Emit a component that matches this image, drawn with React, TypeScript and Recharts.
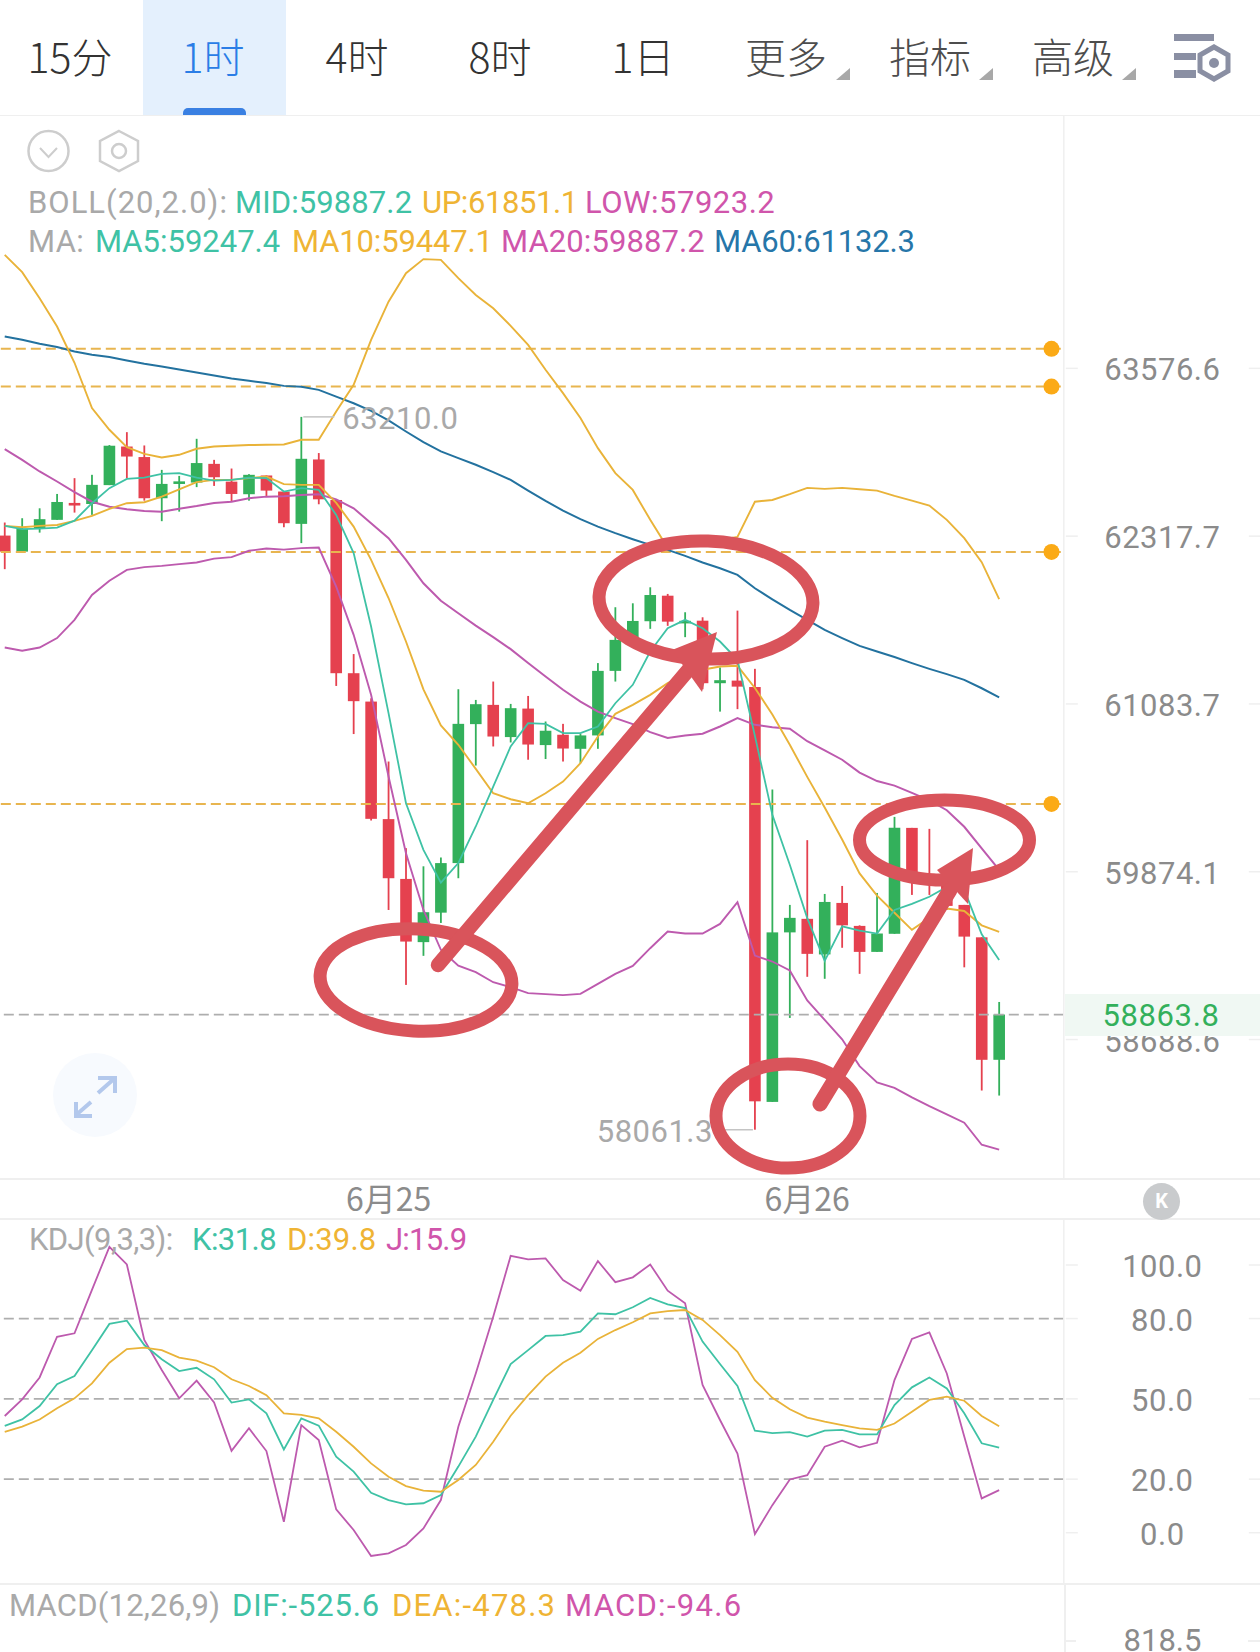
import * as React from "react";
import {
  Bar,
  ComposedChart,
  Line,
  ReferenceDot,
  ReferenceLine,
  XAxis,
  YAxis,
} from "recharts";

// hourly candles, log price axis like the app draws it
const opens = [
  62322, 62203, 62372, 62439, 62565, 62557, 62698, 62987, 62908, 62600,
  62720, 62717, 62857, 62724, 62630, 62770, 62650, 62409, 62890, 62587,
  61308, 61101, 60251, 59823, 59374, 59583, 59936, 60937, 61077, 60843,
  61050, 60785, 60860, 60758, 60855, 61325, 61552, 61689, 61877, 61680,
  61693, 61235, 61254, 61207, 58254, 59443, 59539, 59287, 59652, 59489,
  59305, 59433, 60188, 59859, 59788, 59638, 59408, 58547,
];
const highs = [
  62419, 62451, 62525, 62632, 62750, 62775, 62998, 63095, 62995, 62812,
  62767, 63045, 62887, 62822, 62780, 62770, 62650, 63210, 62938, 62587,
  61448, 61125, 60666, 60043, 59913, 59976, 61191, 61113, 61247, 61084,
  61142, 60956, 60939, 60865, 61382, 61792, 61821, 61939, 61890, 61755,
  61718, 61350, 61767, 61340, 60464, 59638, 60100, 59716, 59773, 59493,
  59723, 60267, 60188, 60181, 59816, 59638, 59408, 58952,
];
const lows = [
  62073, 62203, 62344, 62439, 62493, 62476, 62698, 62750, 62582, 62429,
  62500, 62683, 62692, 62577, 62582, 62617, 62384, 62266, 62555, 61215,
  60865, 60241, 59602, 59072, 59277, 59510, 59828, 60637, 60775, 60804,
  60679, 60684, 60666, 60654, 60758, 61247, 61552, 61633, 61655, 61572,
  61191, 61028, 61046, 58061.3, 58254, 58840, 59129, 59115, 59334, 59150,
  59305, 59433, 59709, 59709, 59602, 59196, 58333, 58298,
];
const closes = [
  62203, 62372, 62444, 62572, 62558, 62700, 62993, 62912, 62600, 62707,
  62726, 62863, 62757, 62632, 62775, 62657, 62414, 62895, 62592, 61308,
  61104, 60253, 59828, 59378, 59586, 59936, 60939, 61082, 60847, 61053,
  60789, 60889, 60760, 60855, 61325, 61552, 61691, 61882, 61686, 61692,
  61235, 61257, 61210, 58258, 59443, 59546, 59291, 59659, 59493, 59305,
  59435, 60189, 59838, 59788, 59631, 59413, 58547, 58863.8,
];

const ma5 = [
  62394, 62370, 62374, 62381, 62433, 62563, 62675, 62744, 62754, 62782,
  62787, 62754, 62732, 62737, 62754, 62750, 62650, 62675, 62662, 62476,
  62192, 61650, 61017, 60365, 60031, 59797, 59936, 60198, 60484, 60775,
  60944, 60939, 60872, 60872, 60920, 61089, 61223, 61467, 61638, 61699,
  61638, 61540, 61406, 60852, 60282, 59924, 59544, 59242, 59486, 59456,
  59435, 59602, 59645, 59696, 59766, 59747, 59430, 59247.4,
];
const ma10 = [
  62394, 62384, 62394, 62401, 62431, 62468, 62520, 62563, 62570, 62612,
  62667, 62720, 62737, 62737, 62750, 62762, 62705, 62700, 62700, 62565,
  62389, 62142, 61860, 61540, 61190, 60927, 60787, 60613, 60437, 60394,
  60365, 60437, 60521, 60654, 60847, 61012, 61077, 61150, 61235, 61296,
  61333, 61357, 61362, 61200, 61007, 60787, 60555, 60335, 60105, 59862,
  59704, 59582, 59461, 59546, 59612, 59595, 59493, 59447.1,
];
const ma20 = [
  62968, 62887, 62800, 62725, 62645, 62574, 62537, 62518, 62505, 62500,
  62522, 62542, 62565, 62574, 62600, 62612, 62615, 62625, 62630, 62592,
  62525, 62414, 62303, 62142, 61969, 61840, 61748, 61657, 61572, 61484,
  61382, 61284, 61187, 61101, 61028, 60981, 60937, 60879, 60836, 60855,
  60867, 60920, 60981, 60932, 60915, 60903, 60813, 60746, 60679, 60586,
  60525, 60492, 60440, 60386, 60315, 60196, 60041, 59887.2,
];
const ma60 = [
  63818, 63793, 63763, 63738, 63705, 63680, 63662, 63636, 63611, 63591,
  63568, 63545, 63522, 63499, 63482, 63465, 63444, 63437, 63414, 63363,
  63313, 63255, 63183, 63100, 63020, 62950, 62900, 62850, 62795, 62737,
  62657, 62580, 62508, 62444, 62389, 62340, 62295, 62253, 62216, 62171,
  62122, 62080, 62031, 61932, 61850, 61772, 61699, 61625, 61565, 61508,
  61467, 61426, 61382, 61340, 61301, 61259, 61198, 61132.3,
];
const bollUp = [
  64443, 64310, 64110, 63894, 63619, 63276, 63113, 62983, 62932, 62905,
  62925, 62970, 62987, 62993, 62998, 63000, 63002, 63038, 63038, 63250,
  63452, 63793, 64084, 64302, 64410, 64404, 64264, 64135, 64034, 63900,
  63755, 63566, 63389, 63201, 62975, 62788, 62662, 62439, 62231, 62253,
  62268, 62290, 62312, 62574, 62587, 62630, 62677, 62670, 62677, 62667,
  62657, 62617, 62582, 62545, 62439, 62303, 62125, 61851.1,
];
const bollLow = [
  61496, 61472, 61496, 61565, 61699, 61882, 61988, 62068, 62088, 62097,
  62110, 62122, 62151, 62162, 62209, 62226, 62218, 62229, 62233, 61944,
  61589, 61150, 60558, 60007, 59602, 59320, 59208, 59162, 59091, 59056,
  59014, 59007, 59000, 59009, 59079, 59150, 59206, 59331, 59449, 59435,
  59435, 59503, 59657, 59279, 59237, 59174, 58963, 58826, 58690, 58503,
  58390, 58352, 58285, 58224, 58167, 58110, 57957, 57923.2,
];

const kLine = [
  39.9, 42.3, 47.3, 55.5, 58.5, 68.2, 78.0, 79.2, 70.1, 64.8,
  60.4, 61.6, 57.3, 48.6, 49.8, 44.6, 31.1, 42.7, 40.0, 28.4,
  22.8, 14.9, 12.2, 10.6, 11.0, 14.1, 24.7, 35.9, 49.6, 63.0,
  68.2, 73.5, 73.8, 75.1, 81.9, 81.6, 84.2, 87.7, 85.3, 83.9,
  71.4, 63.0, 54.8, 38.1, 37.2, 37.6, 35.9, 38.1, 38.4, 36.7,
  36.7, 47.7, 54.3, 58.0, 53.9, 44.6, 33.4, 31.8,
];
const dLine = [
  37.7, 39.6, 42.3, 46.5, 50.2, 55.8, 63.5, 68.6, 69.1, 68.2,
  65.4, 64.3, 61.8, 57.3, 54.8, 51.4, 44.6, 44.0, 42.7, 37.7,
  32.1, 25.9, 20.9, 17.4, 15.7, 15.3, 19.7, 25.3, 34.0, 43.7,
  51.4, 58.3, 63.5, 67.2, 72.4, 75.7, 78.6, 81.9, 82.8, 83.2,
  79.5, 73.8, 67.6, 57.0, 50.4, 46.1, 43.0, 41.5, 40.2, 39.0,
  38.4, 40.8, 45.2, 49.6, 50.8, 49.3, 43.6, 39.8,
];
const jLine = [
  43.6, 49.8, 58.0, 73.2, 74.5, 90.7, 106.8, 100.2, 72.0, 60.8,
  50.2, 56.8, 48.7, 30.6, 39.0, 30.5, 4.1, 40.2, 34.6, 8.7,
  1.0, -8.7, -7.7, -4.6, 1.6, 12.2, 39.6, 59.5, 80.7, 103.4,
  102.1, 102.5, 94.4, 90.4, 101.5, 93.6, 95.4, 100.2, 90.4, 85.7,
  55.2, 42.1, 29.6, -0.5, 10.3, 19.9, 21.5, 32.1, 34.4, 31.9,
  33.6, 57.0, 72.4, 74.8, 59.5, 35.9, 12.8, 15.9,
];

const priceTicks = [63576.6, 62317.7, 61083.7, 59874.1, 58688.6];
const kdjTicks = [100, 80, 50, 20, 0];
const kdjGuides = [80, 50, 20];
const alertPrices = [63725, 63439, 62201, 60360];
const lastPrice = 58863.8;
const dateTicks = [22, 46];
const dateLabels: Record<number, string> = { 22: "6月25", 46: "6月26" };
const tabs = ["15分", "1时", "4时", "8时", "1日", "更多", "指标", "高级"];
// empty slots the app keeps right of the last candle, alert dots sit in the last one
const emptySlots = [58, 59, 60];
const alertSlot = 60;

const rows: any[] = [
  ...opens.map((open, i) => ({
    i,
    open,
    high: highs[i],
    low: lows[i],
    close: closes[i],
    range: [lows[i], highs[i]],
    ma5: ma5[i],
    ma10: ma10[i],
    ma20: ma20[i],
    ma60: ma60[i],
    up: bollUp[i],
    lowBand: bollLow[i],
    k: kLine[i],
    d: dLine[i],
    j: jLine[i],
  })),
  ...emptySlots.map((i) => ({ i })),
];

const GREEN = "#33b05b";
const RED = "#e5414f";
const TEAL = "#3fc2a5";
const ORANGE = "#e9b339";
const PURPLE = "#bd5aae";
const BLUE = "#23729f";
const MARK = "#d9545b";
const LABEL = "#a9a9a9";
const AXIS_TEXT = "#8b8b8b";
const RULE = "#efefef";
const LEGEND_ORANGE = "#efb434";
const LEGEND_PINK = "#d055ab";
const NUM_FONT = "Roboto, 'Noto Sans', sans-serif";
const CJK_FONT = "'Noto Sans CJK SC', sans-serif";

function Candle(props: any) {
  const { x, y, width, height, payload } = props;
  if (!payload || payload.high == null) return null;
  const cx = x + width / 2;
  const { high, low, open, close } = payload;
  const span = Math.log(high / low);
  const at = (p: number) => y + (height * Math.log(high / p)) / span;
  const color = close >= open ? GREEN : RED;
  const top = at(Math.max(open, close));
  const bottom = at(Math.min(open, close));
  return (
    <g>
      <rect x={cx - 0.9} y={y} width={1.8} height={height} fill={color} />
      <rect
        x={cx - 5.8}
        y={top}
        width={11.6}
        height={Math.max(bottom - top, 2.6)}
        fill={color}
      />
    </g>
  );
}

function AxisTick(props: any) {
  const { x, y, payload } = props;
  return (
    <g>
      <line x1={x} x2={x + 12} y1={y} y2={y} stroke={RULE} strokeWidth={1.5} />
      <line x1={x + 183} x2={x + 196} y1={y} y2={y} stroke={RULE} strokeWidth={1.5} />
      <text
        x={x + 96.5}
        y={y + 1.5}
        textAnchor="middle"
        dominantBaseline="central"
        fontFamily={NUM_FONT}
        fontSize={31}
        letterSpacing={0.5}
        fill={AXIS_TEXT}
      >
        {Number(payload.value).toFixed(1)}
      </text>
    </g>
  );
}

function DateTick(props: any) {
  const { x, payload } = props;
  return (
    <text
      x={x}
      y={1197 - 116}
      textAnchor="middle"
      dominantBaseline="central"
      fontFamily={CJK_FONT}
      fontSize={32}
      fill={AXIS_TEXT}
    >
      {dateLabels[payload.value]}
    </text>
  );
}

// leader + price tag for the window high / low
function ExtremeTag(props: any) {
  const { cx, cy, side } = props;
  const right = side === "right";
  return (
    <g>
      <line
        x1={right ? cx + 2 : cx - 2}
        x2={right ? cx + 33 : cx - 38}
        y1={cy}
        y2={cy}
        stroke="#c4c4c4"
        strokeWidth={1.5}
      />
      <text
        x={right ? cx + 41 : cx - 42}
        y={cy + 2}
        textAnchor={right ? "start" : "end"}
        dominantBaseline="central"
        fontFamily={NUM_FONT}
        fontSize={31}
        letterSpacing={0.5}
        fill={LABEL}
      >
        {props.label}
      </text>
    </g>
  );
}

function Legend({
  top,
  items,
}: {
  top: number;
  items: Array<{ left: number; text: string; color: string; ls: number }>;
}) {
  return (
    <>
      {items.map((it) => (
        <div
          key={it.text}
          style={{
            position: "absolute",
            left: it.left,
            top: top - 20,
            height: 40,
            lineHeight: "40px",
            fontFamily: NUM_FONT,
            fontSize: 31,
            letterSpacing: it.ls,
            color: it.color,
            whiteSpace: "nowrap",
          }}
        >
          {it.text}
        </div>
      ))}
    </>
  );
}

function TabBar() {
  const centers = [70, 213, 357, 500, 643, 786, 930, 1073];
  return (
    <>
      <div
        style={{
          position: "absolute",
          left: 143,
          top: 0,
          width: 143,
          height: 115,
          background: "#e4f0fd",
        }}
      />
      <div
        style={{
          position: "absolute",
          left: 183,
          top: 108,
          width: 63,
          height: 7,
          background: "#3a80e2",
          borderRadius: "5px 5px 0 0",
        }}
      />
      {tabs.map((t, i) => (
        <div
          key={t}
          style={{
            position: "absolute",
            left: centers[i] - 70,
            width: 140,
            top: 29,
            height: 52,
            lineHeight: "52px",
            textAlign: "center",
            fontFamily: CJK_FONT,
            fontWeight: 300,
            fontSize: 41,
            color: i === 1 ? "#2a7de6" : i > 4 ? "#4d4d4d" : "#333",
          }}
        >
          {t}
        </div>
      ))}
      <svg
        width={1260}
        height={116}
        style={{ position: "absolute", left: 0, top: 0 }}
      >
        {[836, 979, 1122].map((x) => (
          <polygon
            key={x}
            points={`${x},80 ${x + 14},80 ${x + 14},68`}
            fill="#a8a8a8"
          />
        ))}
        <g fill="#8a8fa3">
          <rect x={1174} y={34} width={40} height={7} />
          <rect x={1174} y={53} width={22} height={7} />
          <rect x={1174} y={70} width={22} height={8} />
        </g>
        <polygon
          points="1214,47 1228,55 1228,71 1214,79 1200,71 1200,55"
          fill="none"
          stroke="#8a8fa3"
          strokeWidth={5}
        />
        <circle cx={1214} cy={63} r={5} fill="#8a8fa3" />
        <line x1={0} x2={1260} y1={115.5} y2={115.5} stroke={RULE} strokeWidth={1} />
      </svg>
    </>
  );
}

// hand drawn markup sitting on top of the screenshot
function Markup() {
  return (
    <svg
      width={1260}
      height={1652}
      style={{ position: "absolute", left: 0, top: 0, pointerEvents: "none" }}
    >
      <g fill="none" stroke={MARK} strokeWidth={13}>
        <ellipse cx={416} cy={980} rx={96} ry={51} transform="rotate(3 416 980)" />
        <ellipse cx={706} cy={600} rx={107} ry={59} transform="rotate(2 706 600)" />
        <ellipse cx={944.5} cy={840} rx={85} ry={40} />
        <ellipse cx={788} cy={1116} rx={72} ry={52} />
      </g>
      <g stroke={MARK} strokeLinecap="round">
        <line x1={438} y1={965} x2={690} y2={668} strokeWidth={14.5} />
        <line x1={820} y1={1104} x2={950} y2={890} strokeWidth={15} />
      </g>
      <g fill={MARK}>
        <polygon points="717,632 702,692 672,650" />
        <polygon points="973,848 968,904 937,870" />
      </g>
    </svg>
  );
}

function ExpandButton() {
  return (
    <svg
      width={100}
      height={100}
      style={{ position: "absolute", left: 48, top: 1045 }}
    >
      <circle cx={47} cy={50} r={42} fill="#f7fafe" />
      <g fill="none" stroke="#b3c8ec" strokeWidth={4}>
        <path d="M50 48 L67 33 M50 33 H67 V48" />
        <path d="M28 70 L43 57 M28 57 V71 H44" />
      </g>
    </svg>
  );
}

export default function App() {
  return (
    <div
      style={{
        position: "absolute",
        left: 0,
        top: 0,
        width: 1260,
        height: 1652,
        overflow: "hidden",
        background: "#fff",
      }}
    >
      <TabBar />

      <svg
        width={170}
        height={60}
        style={{ position: "absolute", left: 20, top: 122 }}
      >
        <circle cx={28.5} cy={29} r={20} fill="none" stroke="#cdcdcd" strokeWidth={2.5} />
        <path d="M20 26 L28.5 35 L37 26" fill="none" stroke="#cdcdcd" strokeWidth={2} />
        <polygon
          points="99,9 118,19 118,39 99,49 80,39 80,19"
          fill="none"
          stroke="#cdcdcd"
          strokeWidth={2.5}
        />
        <circle cx={99} cy={29} r={7} fill="none" stroke="#cdcdcd" strokeWidth={2.5} />
      </svg>

      <div style={{ position: "absolute", left: 0, top: 1178, width: 1260, height: 1.5, background: RULE }} />
      <div style={{ position: "absolute", left: 0, top: 1218, width: 1260, height: 1.5, background: RULE }} />

      <div style={{ position: "absolute", left: -3.82, top: 116 }}>
        <ComposedChart
          width={1263.82}
          height={1112}
          data={rows}
          margin={{ top: 0, right: 0, bottom: 0, left: 0 }}
        >
          <XAxis
            dataKey="i"
            type="category"
            scale="band"
            height={50}
            padding={{ left: 0, right: 3.6 }}
            ticks={dateTicks}
            interval={0}
            tick={<DateTick />}
            tickLine={false}
            axisLine={false}
          />
          <YAxis
            orientation="right"
            width={196}
            scale="log"
            type="number"
            domain={[57728, 65518]}
            allowDataOverflow
            ticks={priceTicks}
            interval={0}
            tick={<AxisTick />}
            tickLine={false}
            tickSize={0}
            axisLine={{ stroke: RULE, strokeWidth: 1.5 }}
          />
          {alertPrices.map((p) => (
            <ReferenceLine
              key={p}
              y={p}
              stroke="#e8b54f"
              strokeWidth={2}
              strokeDasharray="10 5"
              strokeDashoffset={-3}
            />
          ))}
          <ReferenceLine
            y={lastPrice}
            stroke="#aeaeae"
            strokeWidth={1.8}
            strokeDasharray="10 5"
          />
          <Bar dataKey="range" shape={<Candle />} isAnimationActive={false} />
          <Line dataKey="ma60" stroke={BLUE} strokeWidth={2} dot={false} type="linear" isAnimationActive={false} />
          <Line dataKey="up" stroke={ORANGE} strokeWidth={1.9} dot={false} type="linear" isAnimationActive={false} />
          <Line dataKey="lowBand" stroke={PURPLE} strokeWidth={1.9} dot={false} type="linear" isAnimationActive={false} />
          <Line dataKey="ma20" stroke={PURPLE} strokeWidth={2} dot={false} type="linear" isAnimationActive={false} />
          <Line dataKey="ma10" stroke={ORANGE} strokeWidth={1.9} dot={false} type="linear" isAnimationActive={false} />
          <Line dataKey="ma5" stroke={TEAL} strokeWidth={1.8} dot={false} type="linear" isAnimationActive={false} />
          {alertPrices.map((p) => (
            <ReferenceDot
              key={p}
              x={alertSlot}
              y={p}
              r={8}
              fill="#fbaa16"
              stroke="none"
            />
          ))}
          <ReferenceDot
            x={17}
            y={highs[17]}
            r={0}
            shape={<ExtremeTag side="right" label="63210.0" />}
          />
          <ReferenceDot
            x={43}
            y={lows[43]}
            r={0}
            shape={<ExtremeTag side="left" label="58061.3" />}
          />
        </ComposedChart>
      </div>

      <Legend
        top={203}
        items={[
          { left: 28, text: "BOLL(20,2.0):", color: LABEL, ls: 1 },
          { left: 235, text: "MID:59887.2", color: TEAL, ls: 0.1 },
          { left: 422, text: "UP:61851.1", color: LEGEND_ORANGE, ls: -0.4 },
          { left: 585, text: "LOW:57923.2", color: LEGEND_PINK, ls: 0.5 },
        ]}
      />
      <Legend
        top={242}
        items={[
          { left: 28, text: "MA:", color: LABEL, ls: 0.4 },
          { left: 95, text: "MA5:59247.4", color: TEAL, ls: 0 },
          { left: 292, text: "MA10:59447.1", color: LEGEND_ORANGE, ls: -0.15 },
          { left: 501, text: "MA20:59887.2", color: LEGEND_PINK, ls: 0.1 },
          { left: 714, text: "MA60:61132.3", color: "#2676a9", ls: -0.15 },
        ]}
      />

      <ExpandButton />

      <div
        style={{
          position: "absolute",
          left: 1065,
          top: 994,
          width: 195,
          height: 42,
          background: "#f0f8f3",
        }}
      />
      <div
        style={{
          position: "absolute",
          left: 1063,
          top: 996,
          width: 196,
          height: 40,
          lineHeight: "40px",
          textAlign: "center",
          fontFamily: NUM_FONT,
          fontSize: 31,
          letterSpacing: 0.6,
          color: GREEN,
        }}
      >
        {lastPrice.toFixed(1)}
      </div>

      <div
        style={{
          position: "absolute",
          left: 1143,
          top: 1183,
          width: 37,
          height: 37,
          borderRadius: "50%",
          background: "#c9cbcd",
          color: "#fff",
          textAlign: "center",
          lineHeight: "37px",
          fontFamily: NUM_FONT,
          fontWeight: 700,
          fontSize: 20,
        }}
      >
        K
      </div>

      <div style={{ position: "absolute", left: -3.82, top: 1218 }}>
        <ComposedChart
          width={1263.82}
          height={365}
          data={rows}
          margin={{ top: 0, right: 0, bottom: 0, left: 0 }}
        >
          <XAxis
            dataKey="i"
            type="category"
            scale="band"
            hide
            padding={{ left: 0, right: 3.6 }}
          />
          <YAxis
            orientation="right"
            width={196}
            type="number"
            domain={[-18.79, 117.56]}
            allowDataOverflow
            ticks={kdjTicks}
            interval={0}
            tick={<AxisTick />}
            tickLine={false}
            tickSize={0}
            axisLine={{ stroke: RULE, strokeWidth: 1.5 }}
          />
          {kdjGuides.map((v) => (
            <ReferenceLine
              key={v}
              y={v}
              stroke="#aeaeae"
              strokeWidth={1.8}
              strokeDasharray="10 5"
            />
          ))}
          <Line dataKey="j" stroke={PURPLE} strokeWidth={1.8} dot={false} type="linear" isAnimationActive={false} />
          <Line dataKey="k" stroke={TEAL} strokeWidth={1.8} dot={false} type="linear" isAnimationActive={false} />
          <Line dataKey="d" stroke={ORANGE} strokeWidth={1.8} dot={false} type="linear" isAnimationActive={false} />
        </ComposedChart>
      </div>

      <Legend
        top={1240}
        items={[
          { left: 29, text: "KDJ(9,3,3):", color: LABEL, ls: -0.6 },
          { left: 192, text: "K:31.8", color: TEAL, ls: -0.55 },
          { left: 287, text: "D:39.8", color: LEGEND_ORANGE, ls: 0.2 },
          { left: 386, text: "J:15.9", color: LEGEND_PINK, ls: -0.8 },
        ]}
      />

      {/* MACD pane only peeks in at the bottom of the screenshot */}
      <div style={{ position: "absolute", left: 0, top: 1583, width: 1260, height: 1.5, background: RULE }} />
      <div style={{ position: "absolute", left: 1064, top: 1583, width: 1.5, height: 69, background: RULE }} />
      <Legend
        top={1606}
        items={[
          { left: 9, text: "MACD(12,26,9)", color: LABEL, ls: 0.2 },
          { left: 232, text: "DIF:-525.6", color: TEAL, ls: 0.8 },
          { left: 392, text: "DEA:-478.3", color: LEGEND_ORANGE, ls: 1.2 },
          { left: 565, text: "MACD:-94.6", color: LEGEND_PINK, ls: 1.3 },
        ]}
      />
      <div
        style={{
          position: "absolute",
          left: 1064.5,
          top: 1621,
          width: 196,
          height: 40,
          lineHeight: "40px",
          textAlign: "center",
          fontFamily: NUM_FONT,
          fontSize: 31,
          letterSpacing: 0,
          color: AXIS_TEXT,
        }}
      >
        818.5
      </div>
      <div style={{ position: "absolute", left: 1064, top: 1640, width: 12, height: 1.5, background: RULE }} />
      <div style={{ position: "absolute", left: 1248, top: 1640, width: 12, height: 1.5, background: RULE }} />

      <Markup />
    </div>
  );
}
